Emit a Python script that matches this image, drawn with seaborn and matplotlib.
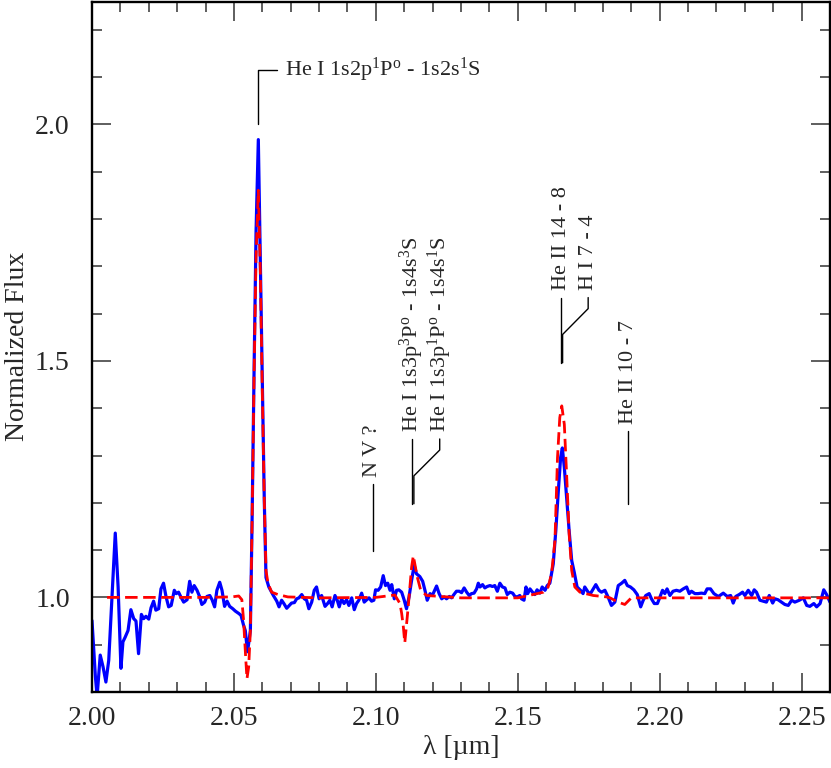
import matplotlib
matplotlib.use("Agg")
import numpy as np
import pandas as pd
import matplotlib.pyplot as plt
from matplotlib.ticker import MultipleLocator
import seaborn as sns

# observed spectrum (wavelength in micron, normalized flux)
wl_obs = [2.0000, 2.0012, 2.0018, 2.0029, 2.0039, 2.0049, 2.0059, 2.0070, 2.0082, 2.0092,
          2.0102, 2.0109, 2.0117, 2.0127, 2.0137, 2.0147, 2.0155, 2.0164, 2.0174, 2.0182,
          2.0190, 2.0200, 2.0208, 2.0217, 2.0225, 2.0235, 2.0243, 2.0252, 2.0261, 2.0270,
          2.0279, 2.0290, 2.0297, 2.0305, 2.0313, 2.0323, 2.0335, 2.0344, 2.0352, 2.0360,
          2.0370, 2.0379, 2.0387, 2.0397, 2.0405, 2.0415, 2.0423, 2.0432, 2.0440, 2.0450,
          2.0458, 2.0467, 2.0476, 2.0485, 2.0496, 2.0505, 2.0517, 2.0525, 2.0534, 2.0540,
          2.0548, 2.0558, 2.0564, 2.0571, 2.0578, 2.0586, 2.0593, 2.0600, 2.0607, 2.0613,
          2.0623, 2.0639, 2.0651, 2.0659, 2.0668, 2.0676, 2.0686, 2.0695, 2.0703, 2.0713,
          2.0721, 2.0729, 2.0739, 2.0748, 2.0756, 2.0764, 2.0774, 2.0783, 2.0791, 2.0800,
          2.0809, 2.0821, 2.0830, 2.0838, 2.0846, 2.0856, 2.0864, 2.0871, 2.0879, 2.0888,
          2.0897, 2.0905, 2.0915, 2.0924, 2.0932, 2.0940, 2.0950, 2.0959, 2.0968, 2.0976,
          2.0985, 2.0993, 2.0999, 2.1008, 2.1017, 2.1026, 2.1034, 2.1042, 2.1050, 2.1056,
          2.1065, 2.1073, 2.1081, 2.1091, 2.1100, 2.1108, 2.1117, 2.1126, 2.1135, 2.1143,
          2.1155, 2.1165, 2.1173, 2.1181, 2.1191, 2.1199, 2.1214, 2.1223, 2.1232, 2.1241,
          2.1249, 2.1259, 2.1267, 2.1275, 2.1284, 2.1294, 2.1302, 2.1311, 2.1320, 2.1329,
          2.1337, 2.1346, 2.1355, 2.1361, 2.1367, 2.1376, 2.1384, 2.1392, 2.1402, 2.1411,
          2.1419, 2.1428, 2.1437, 2.1446, 2.1455, 2.1463, 2.1472, 2.1482, 2.1490, 2.1498,
          2.1507, 2.1513, 2.1522, 2.1529, 2.1535, 2.1543, 2.1552, 2.1560, 2.1568, 2.1578,
          2.1586, 2.1596, 2.1604, 2.1613, 2.1625, 2.1634, 2.1643, 2.1651, 2.1657, 2.1664,
          2.1672, 2.1681, 2.1690, 2.1699, 2.1709, 2.1721, 2.1730, 2.1736, 2.1748, 2.1756,
          2.1766, 2.1775, 2.1786, 2.1795, 2.1807, 2.1818, 2.1830, 2.1842, 2.1854, 2.1866,
          2.1877, 2.1886, 2.1897, 2.1909, 2.1921, 2.1933, 2.1942, 2.1951, 2.1963, 2.1971,
          2.1981, 2.1992, 2.2001, 2.2010, 2.2018, 2.2026, 2.2036, 2.2047, 2.2059, 2.2071,
          2.2083, 2.2095, 2.2104, 2.2112, 2.2124, 2.2135, 2.2147, 2.2159, 2.2167, 2.2179,
          2.2191, 2.2206, 2.2212, 2.2224, 2.2238, 2.2250, 2.2259, 2.2268, 2.2280, 2.2292,
          2.2300, 2.2312, 2.2324, 2.2333, 2.2341, 2.2353, 2.2365, 2.2376, 2.2386, 2.2398,
          2.2406, 2.2417, 2.2429, 2.2441, 2.2453, 2.2465, 2.2476, 2.2492, 2.2506, 2.2518,
          2.2529, 2.2543, 2.2553, 2.2565, 2.2578, 2.2588, 2.2600]
flux_obs = [0.951, 0.832, 0.790, 0.878, 0.853, 0.821, 0.867, 0.994, 1.136, 1.022,
            0.850, 0.906, 0.916, 0.930, 0.974, 0.955, 0.950, 0.881, 0.964, 0.955,
            0.960, 0.954, 0.978, 0.992, 0.973, 0.976, 1.018, 1.030, 1.001, 0.980,
            0.983, 1.015, 1.008, 1.011, 1.001, 0.990, 0.995, 1.034, 1.011, 1.025,
            1.015, 1.002, 0.985, 0.990, 1.002, 1.004, 0.995, 0.980, 1.015, 1.032,
            1.015, 0.981, 0.992, 0.981, 0.976, 0.971, 0.966, 0.962, 0.941, 0.930,
            0.885, 0.930, 1.162, 1.479, 1.774, 1.968, 1.711, 1.458, 1.205, 1.042,
            1.022, 1.004, 0.992, 0.980, 0.994, 0.987, 0.977, 0.983, 0.988, 0.989,
            0.997, 0.999, 1.006, 0.997, 0.994, 0.976, 0.990, 1.015, 1.022, 0.997,
            1.004, 0.981, 0.987, 0.994, 0.980, 1.004, 0.994, 0.980, 0.997, 0.987,
            0.995, 0.983, 0.999, 0.974, 0.987, 0.994, 1.009, 0.990, 0.995, 0.999,
            0.992, 0.994, 1.016, 1.015, 1.022, 1.046, 1.025, 1.030, 1.015, 1.027,
            0.997, 1.015, 1.016, 1.011, 0.994, 0.976, 1.001, 1.036, 1.068, 1.050,
            1.044, 1.034, 1.015, 0.994, 1.008, 1.004, 1.024, 1.008, 0.997, 1.001,
            0.997, 1.002, 0.999, 1.006, 1.013, 1.013, 1.010, 1.020, 1.011, 1.004,
            1.008, 1.009, 1.018, 1.030, 1.022, 1.027, 1.020, 1.023, 1.025, 1.023,
            1.025, 1.013, 1.030, 1.022, 1.020, 1.006, 1.011, 1.009, 1.002, 1.001,
            1.004, 0.997, 0.994, 1.022, 1.008, 1.018, 1.011, 1.006, 1.016, 1.009,
            1.022, 1.015, 1.025, 1.030, 1.071, 1.141, 1.226, 1.296, 1.316, 1.275,
            1.212, 1.141, 1.078, 1.053, 1.022, 1.015, 1.008, 1.022, 1.011, 1.008,
            1.018, 1.027, 1.015, 1.011, 1.015, 1.001, 0.983, 0.990, 1.025, 1.030,
            1.036, 1.025, 1.022, 1.016, 1.006, 0.980, 0.994, 1.004, 1.008, 0.997,
            0.987, 0.987, 1.001, 1.015, 1.008, 1.018, 1.004, 1.013, 1.015, 1.013,
            1.018, 1.022, 1.008, 1.013, 1.008, 1.008, 1.009, 1.008, 1.018, 1.018,
            1.008, 1.002, 1.004, 1.009, 1.002, 1.004, 0.988, 1.002, 1.006, 1.011,
            1.004, 1.015, 1.004, 1.016, 1.011, 0.994, 0.992, 0.990, 1.004, 0.988,
            0.997, 0.995, 0.990, 0.985, 0.983, 0.994, 0.990, 0.994, 0.999, 0.983,
            0.981, 0.987, 0.980, 0.987, 1.016, 1.006, 0.990]

# model spectrum
wl_mod = [2.0053, 2.0200, 2.0400, 2.0493, 2.0517, 2.0528, 2.0534, 2.0542, 2.0546, 2.0552,
          2.0558, 2.0564, 2.0571, 2.0578, 2.0586, 2.0593, 2.0600, 2.0607, 2.0613, 2.0620,
          2.0633, 2.0655, 2.0690, 2.0800, 2.1000, 2.1067, 2.1085, 2.1091, 2.1097, 2.1102,
          2.1114, 2.1126, 2.1132, 2.1146, 2.1158, 2.1179, 2.1300, 2.1500, 2.1554, 2.1590,
          2.1607, 2.1619, 2.1631, 2.1640, 2.1648, 2.1655, 2.1664, 2.1672, 2.1681, 2.1690,
          2.1701, 2.1719, 2.1766, 2.1813, 2.1825, 2.1854, 2.1877, 2.1900, 2.2200, 2.2600]
flux_mod = [1.000, 1.000, 1.000, 1.001, 1.003, 0.995, 0.952, 0.867, 0.828, 0.853,
            0.930, 1.160, 1.470, 1.720, 1.861, 1.690, 1.437, 1.205, 1.057, 1.030,
            1.011, 1.006, 1.001, 0.999, 1.000, 1.005, 0.987, 0.966, 0.937, 0.904,
            0.980, 1.064, 1.088, 1.043, 1.015, 1.004, 0.999, 0.999, 1.006, 1.011,
            1.022, 1.050, 1.120, 1.296, 1.380, 1.405, 1.366, 1.261, 1.134, 1.057,
            1.022, 1.011, 1.004, 1.001, 0.999, 0.990, 0.985, 0.999, 0.999, 0.999]

# line identifications: label, line x, text x, y bottom, y knee, y top
line_ids = ["N V ?",
            r"He I 1s3p$^3$P$^{\rm o}$ - 1s4s$^3$S",
            r"He I 1s3p$^1$P$^{\rm o}$ - 1s4s$^1$S",
            "He II 14 - 8",
            "H I 7 - 4",
            "He II 10 - 7"]
line_wl = [2.0989, 2.1126, 2.1134, 2.1654, 2.1658, 2.1889]
text_wl = [2.0989, 2.1126, 2.1225, 2.1654, 2.1748, 2.1889]
line_bot = [1.099, 1.198, 1.198, 1.496, 1.496, 1.198]
line_knee = [1.240, 1.335, 1.257, 1.634, 1.556, 1.352]
line_top = [1.240, 1.335, 1.335, 1.634, 1.634, 1.352]

sns.set_style("ticks")
plt.rcParams["font.family"] = ["Liberation Serif", "DejaVu Serif"]
plt.rcParams["mathtext.fontset"] = "custom"
plt.rcParams["mathtext.rm"] = "Liberation Serif"
plt.rcParams["mathtext.it"] = "Liberation Serif:italic"

obs = pd.DataFrame({"wl": wl_obs, "flux": flux_obs})
mod = pd.DataFrame({"wl": wl_mod, "flux": flux_mod})

fig = plt.figure(figsize=(8.31, 7.68), dpi=100)
ax = fig.add_axes([0.1107, 0.099, 0.8881, 0.899])

sns.lineplot(data=obs, x="wl", y="flux", color="#0000ff", lw=2.3, ax=ax)
sns.lineplot(data=mod, x="wl", y="flux", color="#ff0000", lw=2.0, ax=ax,
             dashes=False, linestyle=(0, (4.5, 2)))

ax.set_xlim(2.00, 2.26)
ax.set_ylim(0.80, 2.26)
ax.xaxis.set_major_locator(MultipleLocator(0.05))
ax.xaxis.set_minor_locator(MultipleLocator(0.01))
ax.yaxis.set_major_locator(MultipleLocator(0.5))
ax.yaxis.set_minor_locator(MultipleLocator(0.1))
ax.xaxis.set_major_formatter(matplotlib.ticker.FormatStrFormatter("%.2f"))
ax.yaxis.set_major_formatter(matplotlib.ticker.FormatStrFormatter("%.1f"))
ax.tick_params(which="both", direction="in", top=True, right=True,
               width=1.1, color="#333333", labelsize=20)
ax.tick_params(which="major", length=13.5)
ax.tick_params(which="minor", length=7)
ax.tick_params(axis="x", pad=10)
ax.tick_params(axis="y", pad=16)
for sp in ax.spines.values():
    sp.set_linewidth(1.7)
    sp.set_color("black")

ax.set_xlabel("\u03bb [\u00b5m]", fontsize=20)
ax.set_ylabel("Normalized Flux", fontsize=20)
ax.xaxis.set_label_coords(0.5, -0.063)
ax.yaxis.set_label_coords(-0.084, 0.5)

# He I 2.058 label (horizontal)
ax.plot([2.0586, 2.0586, 2.0651], [2.0, 2.116, 2.116], color="black", lw=1.0)
ax.text(2.0680, 2.116, r"He I 1s2p$^1$P$^{\rm o}$ - 1s2s$^1$S",
        fontsize=16, ha="left", va="center")

for lab, lx, tx, yb, yk, yt in zip(line_ids, line_wl, text_wl, line_bot, line_knee, line_top):
    ax.plot([lx, lx, tx, tx], [yb, yk, yt - (yt - yk) * 0.3 if tx != lx else yt, yt],
            color="black", lw=1.0)
    ax.text(tx, yt + 0.015, lab, rotation=90, fontsize=16, ha="center", va="bottom")

fig.savefig("out.png", dpi=100)
